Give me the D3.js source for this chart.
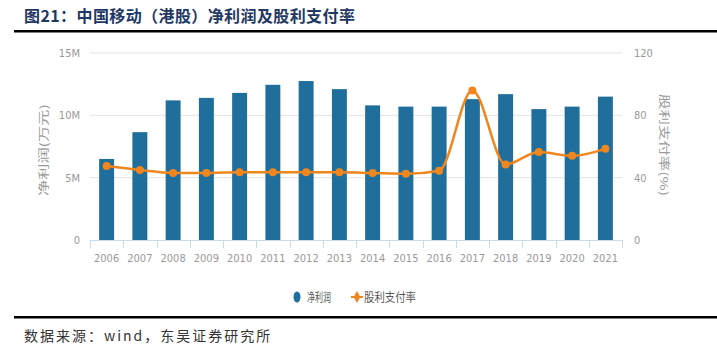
<!DOCTYPE html>
<html>
<head>
<meta charset="utf-8">
<script src="https://cdn.jsdelivr.net/npm/d3@7"></script>
<style>
  body { margin: 0; background: #fff; }
  svg { display: block; }
</style>
</head>
<body>
<div id="chart"></div>
<script>
// data
var years = ["2006","2007","2008","2009","2010","2011","2012","2013","2014","2015","2016","2017","2018","2019","2020","2021"];
var netProfit = [6.5, 8.65, 11.2, 11.4, 11.8, 12.45, 12.75, 12.1, 10.8, 10.7, 10.7, 11.3, 11.7, 10.5, 10.7, 11.5]; // millions
var payout = [47.5, 45, 43, 43, 43.5, 43.5, 43.5, 43.5, 43, 42.5, 44.5, 96, 48.5, 56.5, 54, 58.5];
var leftTicks = [0, 5, 10, 15];
var rightTicks = [0, 40, 80, 120];

var W = 717, H = 350;
var margin = {left: 90, right: 95, top: 53, bottom: 110};
var plotW = W - margin.left - margin.right,
    plotH = H - margin.top - margin.bottom;

var svg = d3.select("#chart").append("svg")
    .attr("width", W)
    .attr("height", H);

// title
svg.append("text")
    .attr("x", 24).attr("y", 22)
    .attr("font-family", "Noto Sans CJK SC")
    .attr("font-weight", "bold")
    .attr("font-size", 16)
    .attr("letter-spacing", 0.4)
    .attr("fill", "#1f3864")
    .text("图21：中国移动（港股）净利润及股利支付率");
svg.append("rect").attr("x", 14).attr("y", 30).attr("width", W - 14).attr("height", 2.5).attr("fill", "#000");
svg.append("rect").attr("x", 14).attr("y", 316).attr("width", W - 14).attr("height", 2.5).attr("fill", "#000");
svg.append("text")
    .attr("x", 24).attr("y", 341)
    .attr("font-family", "Noto Sans CJK SC")
    .attr("font-size", 14)
    .attr("letter-spacing", 2)
    .attr("fill", "#333")
    .text("数据来源：wind，东吴证券研究所");

var g = svg.append("g")
    .attr("transform", "translate(" + margin.left + "," + margin.top + ")");

var x = d3.scaleBand().domain(years).range([0, plotW]).paddingInner(0.55).paddingOuter(0.275);
var y = d3.scaleLinear().domain([0, 15]).range([plotH, 0]);
var y2 = d3.scaleLinear().domain([0, 120]).range([plotH, 0]);

var tickFont = "'Liberation Sans Narrow', 'DejaVu Sans Condensed', sans-serif";

// grid
g.selectAll(".grid")
    .data(leftTicks.slice(1))
    .enter().append("line")
    .attr("x1", 0).attr("x2", plotW)
    .attr("y1", function (d) { return y(d); })
    .attr("y2", function (d) { return y(d); })
    .attr("stroke", "#e3e3e3");

// left axis
var yAxis = d3.axisLeft(y).tickValues(leftTicks)
    .tickFormat(function (d) { return d === 0 ? "0" : d + "M"; })
    .tickSize(0).tickPadding(10);
var ya = g.append("g").call(yAxis);
ya.select(".domain").remove();
ya.selectAll("text").attr("font-family", tickFont).attr("font-size", 11).attr("fill", "#999");

// right axis
var yAxis2 = d3.axisRight(y2).tickValues(rightTicks).tickSize(0).tickPadding(12);
var ya2 = g.append("g").attr("transform", "translate(" + plotW + ",0)").call(yAxis2);
ya2.select(".domain").remove();
ya2.selectAll("text").attr("font-family", tickFont).attr("font-size", 11).attr("fill", "#999");

// bars
g.selectAll(".bar")
    .data(netProfit)
    .enter().append("rect")
    .attr("x", function (d, i) { return x(years[i]); })
    .attr("y", function (d) { return y(d); })
    .attr("width", x.bandwidth())
    .attr("height", function (d) { return plotH - y(d); })
    .attr("fill", "#1f6e9c");

// x axis
g.append("line")
    .attr("x1", 0).attr("x2", plotW)
    .attr("y1", plotH + 0.5).attr("y2", plotH + 0.5)
    .attr("stroke", "#c9dcea");
g.selectAll(".xtick")
    .data(years.concat(["end"]))
    .enter().append("line")
    .attr("x1", function (d, i) { return Math.round(x.step() * i) + 0.5; })
    .attr("x2", function (d, i) { return Math.round(x.step() * i) + 0.5; })
    .attr("y1", plotH).attr("y2", plotH + 8)
    .attr("stroke", "#c9dcea");
g.selectAll(".xlab")
    .data(years)
    .enter().append("text")
    .attr("x", function (d) { return x(d) + x.bandwidth() / 2; })
    .attr("y", plotH + 22)
    .attr("text-anchor", "middle")
    .attr("font-family", tickFont)
    .attr("font-size", 11)
    .attr("fill", "#999")
    .text(function (d) { return d; });

// payout line
var line = d3.line()
    .x(function (d, i) { return x(years[i]) + x.bandwidth() / 2; })
    .y(function (d) { return y2(d); })
    .curve(d3.curveMonotoneX);
g.append("path")
    .datum(payout)
    .attr("d", line)
    .attr("fill", "none")
    .attr("stroke", "#f0861e")
    .attr("stroke-width", 2.5);
g.selectAll(".dot")
    .data(payout)
    .enter().append("circle")
    .attr("cx", function (d, i) { return x(years[i]) + x.bandwidth() / 2; })
    .attr("cy", function (d) { return y2(d); })
    .attr("r", 4)
    .attr("fill", "#f0861e");

// axis titles
svg.append("text")
    .attr("transform", "translate(48,150) rotate(-90)")
    .attr("text-anchor", "middle")
    .attr("font-family", "Noto Sans CJK SC")
    .attr("font-size", 11)
    .attr("textLength", 92)
    .attr("lengthAdjust", "spacingAndGlyphs")
    .attr("fill", "#999")
    .text("净利润(万元)");
svg.append("text")
    .attr("transform", "translate(660,145) rotate(90)")
    .attr("text-anchor", "middle")
    .attr("font-family", "Noto Sans CJK SC")
    .attr("font-size", 11)
    .attr("textLength", 102)
    .attr("lengthAdjust", "spacingAndGlyphs")
    .attr("fill", "#999")
    .text("股利支付率(%)");

// legend
var lg = svg.append("g").attr("transform", "translate(0,297)");
lg.append("ellipse").attr("cx", 297).attr("cy", 0).attr("rx", 3.5).attr("ry", 5.5).attr("fill", "#1f6e9c");
lg.append("text").attr("x", 307).attr("y", 4.5)
    .attr("font-family", "Noto Sans CJK SC").attr("font-size", 12).attr("fill", "#555")
    .attr("textLength", 24).attr("lengthAdjust", "spacingAndGlyphs")
    .text("净利润");
lg.append("line").attr("x1", 351).attr("x2", 363).attr("y1", 0).attr("y2", 0)
    .attr("stroke", "#f0861e").attr("stroke-width", 2);
lg.append("path").attr("d", d3.symbol(d3.symbolDiamond, 40)()).attr("transform", "translate(357,0)")
    .attr("fill", "#f0861e");
lg.append("text").attr("x", 364).attr("y", 4.5)
    .attr("font-family", "Noto Sans CJK SC").attr("font-size", 12).attr("fill", "#555")
    .attr("textLength", 52).attr("lengthAdjust", "spacingAndGlyphs")
    .text("股利支付率");
</script>
</body>
</html>
